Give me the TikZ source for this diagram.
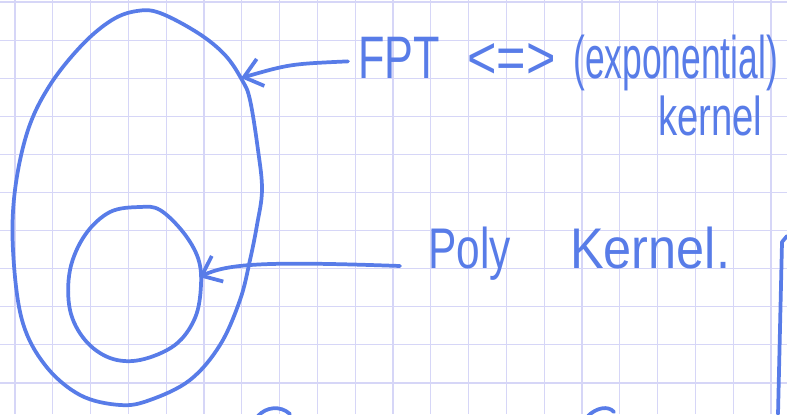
\documentclass[tikz,border=0pt]{standalone}
\usepackage{fontspec}
\setmainfont{Liberation Sans}
\usetikzlibrary{arrows.meta}
\definecolor{ink}{RGB}{88,124,232}
\definecolor{gridc}{RGB}{214,214,247}
\tikzset{
  inkline/.style={draw=ink, line width=2.8pt, line cap=round, line join=round},
  gridline/.style={draw=gridc, line width=0.8pt},
  lbl/.style={text=ink, inner sep=0pt, anchor=base west, font=\fontsize{45}{50}\selectfont},
  lblb/.style={lbl, font=\fontsize{43}{48}\selectfont},
  lblc/.style={lbl, font=\fontsize{41}{46}\selectfont},
  pointer/.style={inkline, -{Straight Barb[length=13pt,width=21pt]}}
}
\begin{document}
\begin{tikzpicture}[x=0.75pt,y=-0.75pt]
\useasboundingbox (0,0) rectangle (787,414);
\fill[white] (0,0) rectangle (787,414);
% grid paper
\foreach \i in {0,...,20} \draw[gridline] ({15+37.8*\i},0) -- ({15+37.8*\i},414);
\foreach \j in {0,...,10} \draw[gridline] (0,{2+38.1*\j}) -- (787,{2+38.1*\j});
% outer loop
\draw[inkline] plot[smooth cycle, tension=0.6] coordinates {
  (137,11) (160,13) (198,33) (225,55) (242,80) (250,100) (258,150) (262,190)
  (257,225) (250,260) (240,300) (220,345) (190,380) (150,400) (120,405)
  (80,395) (45,365) (22,320) (13,250) (15,190) (28,130) (50,85) (82,45) (112,20)};
% inner loop
\draw[inkline] plot[smooth cycle, tension=0.6] coordinates {
  (140,207) (160,210) (183,232) (198,258) (201,285) (195,318) (175,345)
  (140,360) (110,358) (85,340) (70,310) (70,270) (85,235) (110,212)};
% labels
\node[lbl] (fpt) at (358,78) {\scalebox{0.72}[1]{FPT}};
\node[lbl] (iff) at (467,78) {\scalebox{0.84}[1]{<=>}};
\node[lbl] (expo) at (573,78) {\scalebox{0.59}[1]{(exponential)}};
\node[lblc] (kern) at (658,135) {\scalebox{0.70}[1]{kernel}};
\node[lblb] (poly) at (428,268) {\scalebox{0.74}[1]{Poly}};
\node[lblb] (pkern) at (570,268) {\scalebox{0.88}[1]{Kernel.}};
% arrows
\coordinate (t1) at (241,78);
\coordinate (t2) at (199,277);
\draw[pointer] ([shift={(-10,4)}]fpt.west) .. controls (290,64) .. (t1);
\draw[pointer] ([shift={(-28,-2)}]poly.base west) .. controls (260,261) and (228,264) .. (t2);
% fragments of other strokes at the edges
\draw[inkline] (787,236) -- (782,242) -- (778,414);
\draw[inkline] (258,416) .. controls (266,407) and (280,405) .. (290,414);
\draw[inkline] (588,416) .. controls (596,408) and (608,405) .. (614,412);
\end{tikzpicture}
\end{document}
